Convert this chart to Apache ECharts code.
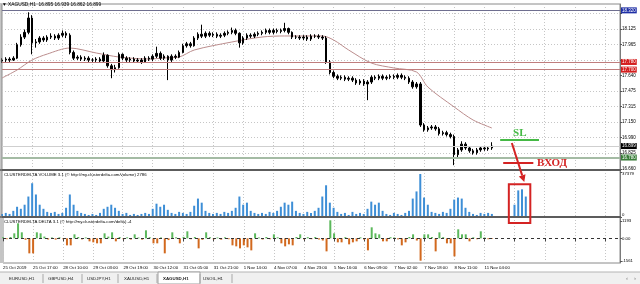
<!DOCTYPE html>
<html><head><meta charset="utf-8">
<script src="https://cdn.jsdelivr.net/npm/echarts@6/dist/echarts.min.js"></script>
<style>html,body{margin:0;padding:0;background:#fff}#c{width:640px;height:284px}</style>
</head><body><div id="c"></div>
<script>
// ---------- DATA ----------
const timeLabels = ['25 Oct 2019','25 Oct 17:00','28 Oct 10:00','29 Oct 03:00','29 Oct 19:00','30 Oct 12:00','31 Oct 05:00','31 Oct 21:00','1 Nov 14:00','4 Nov 07:00','4 Nov 23:00','5 Nov 16:00','6 Nov 09:00','7 Nov 02:00','7 Nov 18:00','8 Nov 11:00','11 Nov 04:00'];
const headerValues = [16.895, 16.939, 16.862, 16.899];
const firstOpen = 17.79;
const closes = [
 17.80,17.81,17.80,17.82,17.96,18.04,18.09,18.24,17.98,17.99,
 18.03,18.01,18.04,18.05,18.03,18.06,18.08,18.06,17.88,17.82,
 17.83,17.81,17.82,17.80,17.80,17.81,17.79,17.85,17.74,17.70,
 17.72,17.86,17.82,17.80,17.81,17.79,17.80,17.78,17.82,17.81,
 17.84,17.87,17.82,17.84,17.80,17.84,17.83,17.88,17.95,17.97,
 17.95,18.03,18.07,18.05,18.08,18.06,18.07,18.05,18.06,18.08,
 18.09,18.11,18.08,17.98,18.03,18.06,18.05,18.07,18.08,18.09,
 18.11,18.09,18.11,18.10,18.11,18.13,18.09,18.04,18.04,18.03,
 18.04,18.02,18.05,18.05,18.04,18.03,17.78,17.67,17.63,17.61,
 17.62,17.60,17.61,17.59,17.56,17.58,17.55,17.57,17.62,17.61,
 17.63,17.61,17.62,17.63,17.62,17.64,17.62,17.61,17.57,17.52,
 17.55,17.12,17.07,17.09,17.10,17.08,17.03,17.04,17.02,17.00,
 16.81,16.86,16.92,16.88,16.85,16.83,16.86,16.88,16.87,16.88,
 16.90];
const highs = [
 17.82,17.83,17.83,17.84,17.98,18.07,18.12,18.30,18.27,18.02,
 18.05,18.05,18.06,18.08,18.07,18.08,18.11,18.10,18.08,17.90,
 17.85,17.85,17.84,17.84,17.82,17.83,17.83,17.88,17.86,17.76,
 17.75,17.88,17.87,17.84,17.83,17.83,17.82,17.82,17.84,17.84,
 17.86,17.94,17.89,17.86,17.85,17.86,17.86,17.90,17.97,17.99,
 17.99,18.05,18.09,18.17,18.10,18.10,18.09,18.09,18.08,18.10,
 18.11,18.14,18.13,18.09,18.05,18.08,18.08,18.09,18.10,18.11,
 18.13,18.13,18.13,18.13,18.13,18.19,18.14,18.10,18.06,18.06,
 18.06,18.06,18.07,18.07,18.07,18.06,18.05,17.80,17.69,17.65,
 17.64,17.64,17.63,17.63,17.61,17.60,17.60,17.59,17.64,17.64,
 17.65,17.65,17.64,17.65,17.65,17.66,17.66,17.64,17.63,17.59,
 17.57,17.57,17.14,17.11,17.12,17.12,17.10,17.06,17.06,17.04,
 17.02,16.88,16.95,16.94,16.90,16.87,16.88,16.90,16.90,16.90,
 16.94];
const lows = [
 17.77,17.78,17.78,17.79,17.81,17.94,18.02,18.07,17.86,17.93,
 17.97,17.99,17.99,18.02,18.01,18.01,18.04,18.03,17.86,17.80,
 17.80,17.79,17.79,17.78,17.78,17.78,17.77,17.78,17.72,17.61,
 17.67,17.71,17.80,17.78,17.78,17.77,17.77,17.76,17.77,17.79,
 17.79,17.82,17.80,17.80,17.59,17.78,17.81,17.82,17.87,17.93,
 17.93,17.94,18.01,18.03,18.03,18.04,18.04,18.03,18.03,18.04,
 18.06,18.07,18.06,17.93,17.96,18.01,18.03,18.03,18.05,18.06,
 18.07,18.07,18.07,18.08,18.08,18.09,18.07,18.02,18.02,18.01,
 18.01,18.00,18.00,18.03,18.02,18.01,17.76,17.65,17.61,17.59,
 17.59,17.58,17.58,17.57,17.54,17.54,17.53,17.38,17.55,17.59,
 17.59,17.59,17.59,17.60,17.60,17.60,17.60,17.59,17.55,17.50,
 17.50,17.10,17.05,17.05,17.07,17.06,17.01,17.01,17.00,16.98,
 16.70,16.78,16.84,16.86,16.83,16.81,16.81,16.84,16.85,16.85,
 16.86];
const maPoints = [[0,17.612],[4,17.696],[8,17.801],[12,17.863],[18,17.926],[25,17.874],[31,17.832],[39,17.811],[43,17.822],[47,17.832],[51,17.905],[61,17.989],[69,18.041],[75,18.052],[85,18.052],[88,18.010],[92,17.905],[98,17.769],[104,17.717],[110,17.675],[113,17.518],[120,17.309],[125,17.173],[130,17.089]];
const volumes = [
 2550,3400,2550,5100,8500,6800,10200,17000,28050,18700,
 10200,6800,4250,3400,4250,2550,3400,7650,18700,10200,
 5100,3400,2550,1700,2550,1700,3400,6800,8500,10200,
 7650,5100,2550,3400,1700,2550,1700,2550,3400,2550,
 6800,11050,8500,10200,5950,3400,2550,4250,3400,2550,
 4250,9350,15300,11900,5100,3400,2550,3400,2550,4250,
 3400,5100,7650,17000,10200,11900,5100,3400,2550,3400,
 2550,4250,3400,5100,8500,11900,10200,12750,5100,3400,
 2550,4250,3400,5100,7650,17000,26350,11900,7650,4250,
 2550,3400,1700,4250,2550,3400,2550,6800,12750,10200,
 11900,5100,2550,1700,3400,2550,1700,3400,5100,15300,
 21250,35700,16150,10200,4250,3400,2550,4250,3400,6800,
 14450,16150,15300,7650,4250,2550,1700,3400,2550,3400,
 2550];
const deltas = [
 80,-60,90,345,1035,414,-100,-1035,-1035,414,
 345,120,-80,60,-90,70,-60,-483,-483,276,
 90,-70,60,-207,-276,-345,-345,345,120,414,
 -207,90,-60,70,-80,276,60,-90,552,80,
 -345,-345,60,-1035,-120,414,70,-345,100,483,
 -60,90,-690,-100,414,80,-70,60,-90,70,
 -60,-483,-552,-690,-483,-621,-828,345,60,-80,
 90,-60,276,70,-345,-552,-414,-483,90,276,
 -70,80,-60,90,-80,-150,-897,1242,345,-276,
 -276,80,-414,-276,-207,70,-90,-828,759,345,
 276,-207,-207,80,60,-70,-483,-276,90,276,
 -150,-1540,276,276,90,-897,414,80,-345,-345,
 -1242,621,276,276,-207,70,-60,483,60,-60,
 -40];
const boxVolCats = [136,137,138,139];
const boxVolValues = [10200,22100,23000,17000];
const priceTicks = [16.660,16.825,16.990,17.150,17.315,17.475,17.640,17.800,17.965,18.125,18.290];
const priceLabels = [16.660,16.825,16.990,17.150,17.315,17.475,17.640,17.965,18.125];
const levelValues = [18.320,17.780,17.700,16.899,16.780];
const volumeTicks = [0,37379];
const deltaTicks = [-1561,0,1193];
const tabs = ['EURUSD,H1','GBPUSD,H4','USDJPY,H1','XAUUSD,H1','XAGUSD,H1','USOIL,H1'];
const activeTab = 4;
// annotation anchors (category index, value)
const slLevel = 16.963, slFrom = 132.2, slTo = 142.5, slTextPos = [137.4, 17.036];
const entryLevel = 16.723, entryFrom = 133, entryTo = 141, entryTextCat = 142;
const arrowFrom = [135.3, 16.932], arrowToVol = [138.6, 29000];
const boxCats = [134.5, 140.2], boxTopVol = 27200, boxBottomDelta = 1056;

// ---------- STYLE / LAYOUT ----------
const N = 165;
const categories = Array.from({length: N}, (_, i) => String(i));
const candleData = closes.map((c, i) => [i === 0 ? firstOpen : closes[i - 1], c, lows[i], highs[i]]);
const boxVolData = new Array(N).fill(null);
boxVolCats.forEach((c, k) => { boxVolData[c] = boxVolValues[k]; });
const levelStyles = [
  {line: '#6f6f90', w: 1, bg: '#1f2fa6'},
  {line: '#bf7d7d', w: 1, bg: '#d41f1f'},
  {line: '#bf7d7d', w: 1, bg: '#d41f1f'},
  {line: '#cfcfcf', w: 1, bg: '#000000'},
  {line: '#a4bba4', w: 2, bg: '#3a7d3a'}
];
const F = 'Liberation Sans';
const dotted = {color: '#c6c6c6', type: [1, 2], width: 1};

const chart = echarts.init(document.getElementById('c'), null, {renderer: 'canvas', width: 640, height: 284});

const option = {
  animation: false,
  textStyle: {fontFamily: F},
  title: [
    {text: '\u25BC XAGUSD,H1  ' + headerValues.map(v => v.toFixed(3)).join(' '), left: 2, top: 2, padding: 0,
     textStyle: {fontSize: 4.8, fontWeight: 'normal', color: '#000', fontFamily: F}},
    {text: 'CLUSTERDELTA VOLUME 3.1 (\u00A9 http://my.clusterdelta.com/volume) 2786', left: 4, top: 173, padding: 0,
     textStyle: {fontSize: 4.3, fontWeight: 'normal', color: '#000', fontFamily: F}},
    {text: 'CLUSTERDELTA DELTA 3.1 (\u00A9 http://my.clusterdelta.com/delta) -4', left: 4, top: 220, padding: 0,
     textStyle: {fontSize: 4.3, fontWeight: 'normal', color: '#000', fontFamily: F}}
  ],
  grid: [
    {left: 2, right: 20, top: 4, height: 166, show: true, borderColor: '#8a8a8a', borderWidth: 1},
    {left: 2, right: 20, top: 170, height: 47, show: true, borderColor: '#8a8a8a', borderWidth: 1},
    {left: 2, right: 20, top: 217, height: 46, show: true, borderColor: '#8a8a8a', borderWidth: 1}
  ],
  xAxis: [0, 1, 2].map(g => ({
    type: 'category', gridIndex: g, data: categories, boundaryGap: false,
    axisLine: {show: false},
    axisTick: {show: g === 2, interval: 7, length: 3, lineStyle: {color: '#444'}},
    axisLabel: {show: g === 2, interval: 7, align: 'left', fontSize: 4.3, color: '#000', margin: 3,
      formatter: (v) => { const i = +v; return (i % 8 === 0 && timeLabels[i / 8]) ? timeLabels[i / 8] : ''; }},
    splitLine: {show: true, interval: 7, lineStyle: dotted}
  })),
  yAxis: [
    {type: 'value', gridIndex: 0, position: 'right', min: 16.6495, max: 18.3866,
     axisLine: {show: true, lineStyle: {color: '#7a7a7a'}},
     axisTick: {show: true, length: 2, customValues: priceTicks, lineStyle: {color: '#555'}},
     axisLabel: {customValues: priceLabels, fontSize: 4.5, color: '#000', margin: 2, formatter: v => v.toFixed(3)},
     splitLine: {show: true, lineStyle: dotted}},
    {type: 'value', gridIndex: 1, position: 'right', min: 0, max: 39039,
     axisLine: {show: true, lineStyle: {color: '#7a7a7a'}},
     axisTick: {show: true, length: 2, customValues: volumeTicks, lineStyle: {color: '#555'}},
     axisLabel: {customValues: volumeTicks, fontSize: 4.3, color: '#000', margin: 2,
       verticalAlignMaxLabel: 'top', verticalAlignMinLabel: 'bottom', formatter: v => String(v)},
     splitLine: {show: false}},
    {type: 'value', gridIndex: 2, position: 'right', min: -1699, max: 1469,
     axisLine: {show: true, lineStyle: {color: '#7a7a7a'}},
     axisTick: {show: true, length: 2, customValues: deltaTicks, lineStyle: {color: '#555'}},
     axisLabel: {customValues: deltaTicks, fontSize: 4.3, color: '#000', margin: 2,
       formatter: v => v === 0 ? '0.00' : String(v)},
     splitLine: {show: false}}
  ],
  series: [
    {type: 'line', xAxisIndex: 0, yAxisIndex: 0, data: maPoints, showSymbol: false, smooth: 0.3,
     lineStyle: {color: '#bb8d8d', width: 1}, z: 2, silent: true},
    {type: 'candlestick', xAxisIndex: 0, yAxisIndex: 0, data: candleData, barWidth: 2, z: 3,
     itemStyle: {color: '#000', color0: '#000', borderColor: '#000', borderColor0: '#000', borderWidth: 1},
     markLine: {symbol: 'none', silent: true, animation: false,
       data: levelValues.map((v, k) => ({
         yAxis: v,
         lineStyle: {color: levelStyles[k].line, width: levelStyles[k].w, type: 'solid'},
         label: {show: true, position: 'end', distance: 1, formatter: v.toFixed(3), color: '#fff',
           backgroundColor: levelStyles[k].bg, padding: [1, 1, 0, 1], fontSize: 4.5, fontFamily: F}
       }))}},
    {type: 'bar', xAxisIndex: 1, yAxisIndex: 1, data: volumes, barWidth: 2, barGap: '-100%',
     itemStyle: {color: '#3d8ed6'}},
    {type: 'bar', xAxisIndex: 1, yAxisIndex: 1, data: boxVolData, barWidth: 2, barGap: '-100%',
     itemStyle: {color: '#3d8ed6'}},
    {type: 'bar', xAxisIndex: 2, yAxisIndex: 2, data: deltas, barWidth: 2,
     itemStyle: {color: p => p.value >= 0 ? '#5cb85c' : '#d2691e'},
     markLine: {symbol: 'none', silent: true, label: {show: false},
       data: [{yAxis: 0}], lineStyle: {color: '#333', type: [3, 3], width: 1}}}
  ]
};
chart.setOption(option);

// ---------- annotations & chrome ----------
const x0 = chart.convertToPixel({xAxisIndex: 0}, 0);
const x1 = chart.convertToPixel({xAxisIndex: 0}, 1);
const xAt = c => x0 + c * (x1 - x0);
const yP = v => chart.convertToPixel({yAxisIndex: 0}, v);
const yV = v => chart.convertToPixel({yAxisIndex: 1}, v);
const yD = v => chart.convertToPixel({yAxisIndex: 2}, v);

const red = '#d42323', green = '#45b945';
const A = [xAt(arrowFrom[0]), yP(arrowFrom[1])];
const B = [xAt(arrowToVol[0]), yV(arrowToVol[1])];
const dx = B[0] - A[0], dy = B[1] - A[1], len = Math.hypot(dx, dy);
const ux = dx / len, uy = dy / len, nx = -uy, ny = ux;
const headL = 7, headW = 3.5;
const Bb = [B[0] - ux * headL, B[1] - uy * headL];

const graphics = [
  // panel separators
  {type: 'line', shape: {x1: 0, y1: 170, x2: 621, y2: 170}, style: {stroke: '#5c5c5c', lineWidth: 2}, z: 50},
  {type: 'line', shape: {x1: 0, y1: 217, x2: 621, y2: 217}, style: {stroke: '#5c5c5c', lineWidth: 2}, z: 50},
  {type: 'line', shape: {x1: 1, y1: 3, x2: 1, y2: 263}, style: {stroke: '#8a8a8a', lineWidth: 1}, z: 50},
  // SL
  {type: 'line', shape: {x1: xAt(slFrom), y1: yP(slLevel), x2: xAt(slTo), y2: yP(slLevel)}, style: {stroke: green, lineWidth: 2}, z: 60},
  {type: 'text', x: xAt(slTextPos[0]), y: yP(slTextPos[1]), style: {text: 'SL', fill: green, font: 'bold 11px "Liberation Serif"', textAlign: 'center', textVerticalAlign: 'middle'}, z: 60},
  // entry
  {type: 'line', shape: {x1: xAt(entryFrom), y1: yP(entryLevel), x2: xAt(entryTo), y2: yP(entryLevel)}, style: {stroke: red, lineWidth: 2}, z: 60},
  {type: 'text', x: xAt(entryTextCat), y: yP(entryLevel), style: {text: '\u0412\u0425\u041E\u0414', fill: red, font: 'bold 11px "Liberation Serif"', textAlign: 'left', textVerticalAlign: 'middle'}, z: 60},
  // arrow
  {type: 'line', shape: {x1: A[0], y1: A[1], x2: Bb[0], y2: Bb[1]}, style: {stroke: red, lineWidth: 2}, z: 60},
  {type: 'polygon', shape: {points: [B, [Bb[0] + nx * headW, Bb[1] + ny * headW], [Bb[0] - nx * headW, Bb[1] - ny * headW]]}, style: {fill: red}, z: 60},
  // red box
  {type: 'rect', shape: {x: xAt(boxCats[0]), y: yV(boxTopVol), width: xAt(boxCats[1]) - xAt(boxCats[0]), height: yD(boxBottomDelta) - yV(boxTopVol)},
   style: {stroke: red, lineWidth: 2, fill: 'none'}, z: 60},
  // tab bar
  {type: 'rect', shape: {x: 0, y: 272, width: 640, height: 12}, style: {fill: '#f0f0f0'}, z: 40},
  {type: 'line', shape: {x1: 0, y1: 272, x2: 640, y2: 272}, style: {stroke: '#b4b4b4', lineWidth: 1}, z: 41}
];
const tabX = [9, 48, 87, 124, 163, 203];
const sepX = [43, 82, 118, 157, 200, 232];
graphics.push({type: 'rect', shape: {x: 158, y: 272, width: 42, height: 12}, style: {fill: '#fff', stroke: '#a0a0a0', lineWidth: 1}, z: 42});
tabs.forEach((t, k) => {
  graphics.push({type: 'text', x: tabX[k], y: 278.5, style: {text: t, fill: '#222', font: (k === activeTab ? 'bold ' : '') + '4.4px "Liberation Sans"', textVerticalAlign: 'middle'}, z: 45});
});
sepX.forEach(x => graphics.push({type: 'line', shape: {x1: x, y1: 274, x2: x, y2: 283}, style: {stroke: '#a8a8a8', lineWidth: 1}, z: 43}));
graphics.push({type: 'text', x: 626, y: 278.5, style: {text: '\u2039', fill: '#777', font: '6px "Liberation Sans"', textVerticalAlign: 'middle'}, z: 45});
graphics.push({type: 'text', x: 634, y: 278.5, style: {text: '\u203A', fill: '#777', font: '6px "Liberation Sans"', textVerticalAlign: 'middle'}, z: 45});

chart.setOption({graphic: graphics});
</script>
</body></html>
